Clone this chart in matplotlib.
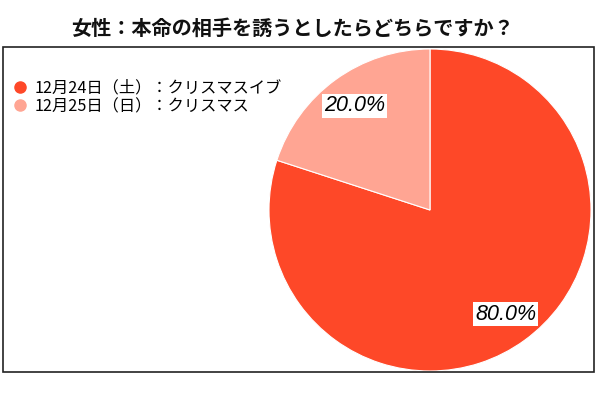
import matplotlib
matplotlib.use('Agg')

import matplotlib.pyplot as plt
from matplotlib.lines import Line2D
from matplotlib.patches import Rectangle

plt.rcParams['font.family'] = ['Noto Sans CJK JP', 'DejaVu Sans']

title = "女性：本命の相手を誘うとしたらどちらですか？"
labels = ["12月24日（土）：クリスマスイブ", "12月25日（日）：クリスマス"]
values = [80.0, 20.0]
colors = ["#fe4828", "#ffa593"]

fig = plt.figure(figsize=(6, 4), dpi=100)

# frame around the chart area
fig.patches.append(Rectangle((0.005, 0.07), 0.985, 0.8125, transform=fig.transFigure,
                             fill=False, edgecolor="#222222", linewidth=1.2))

fig.text(0.4875, 0.93, title, ha="center", va="center", fontsize=14.5,
         fontweight="bold", color="#111111")

# pie: centre (430, 210) px, radius 161 px
ax = fig.add_axes([(430 - 161) / 600, 1 - (210 + 161) / 400, 322 / 600, 322 / 400])
wedges, texts, autotexts = ax.pie(values, colors=colors, startangle=90, counterclock=False,
                                  autopct="%.1f%%", pctdistance=0.8,
                                  wedgeprops=dict(edgecolor="white", linewidth=0.8))
for t in autotexts:
    t.set_family(["Liberation Sans", "DejaVu Sans"])
    t.set_style("italic")
    t.set_fontsize(15.5)
    t.set_color("black")
    t.set_bbox(dict(facecolor="white", edgecolor="none", pad=1.2))
ax.set_xlim(-1, 1)
ax.set_ylim(-1, 1)
ax.set_aspect("equal")
ax.axis("off")

handles = [Line2D([], [], marker="o", linestyle="none", markersize=8,
                  markerfacecolor=c, markeredgecolor=c) for c in colors]
fig.legend(handles, labels, loc="upper left", bbox_to_anchor=(0.0, 0.83),
           frameon=False, fontsize=11.7, handletextpad=0.4, labelspacing=0.1,
           handlelength=1.0, borderaxespad=0.3)

fig.savefig("out.png", dpi=100)
